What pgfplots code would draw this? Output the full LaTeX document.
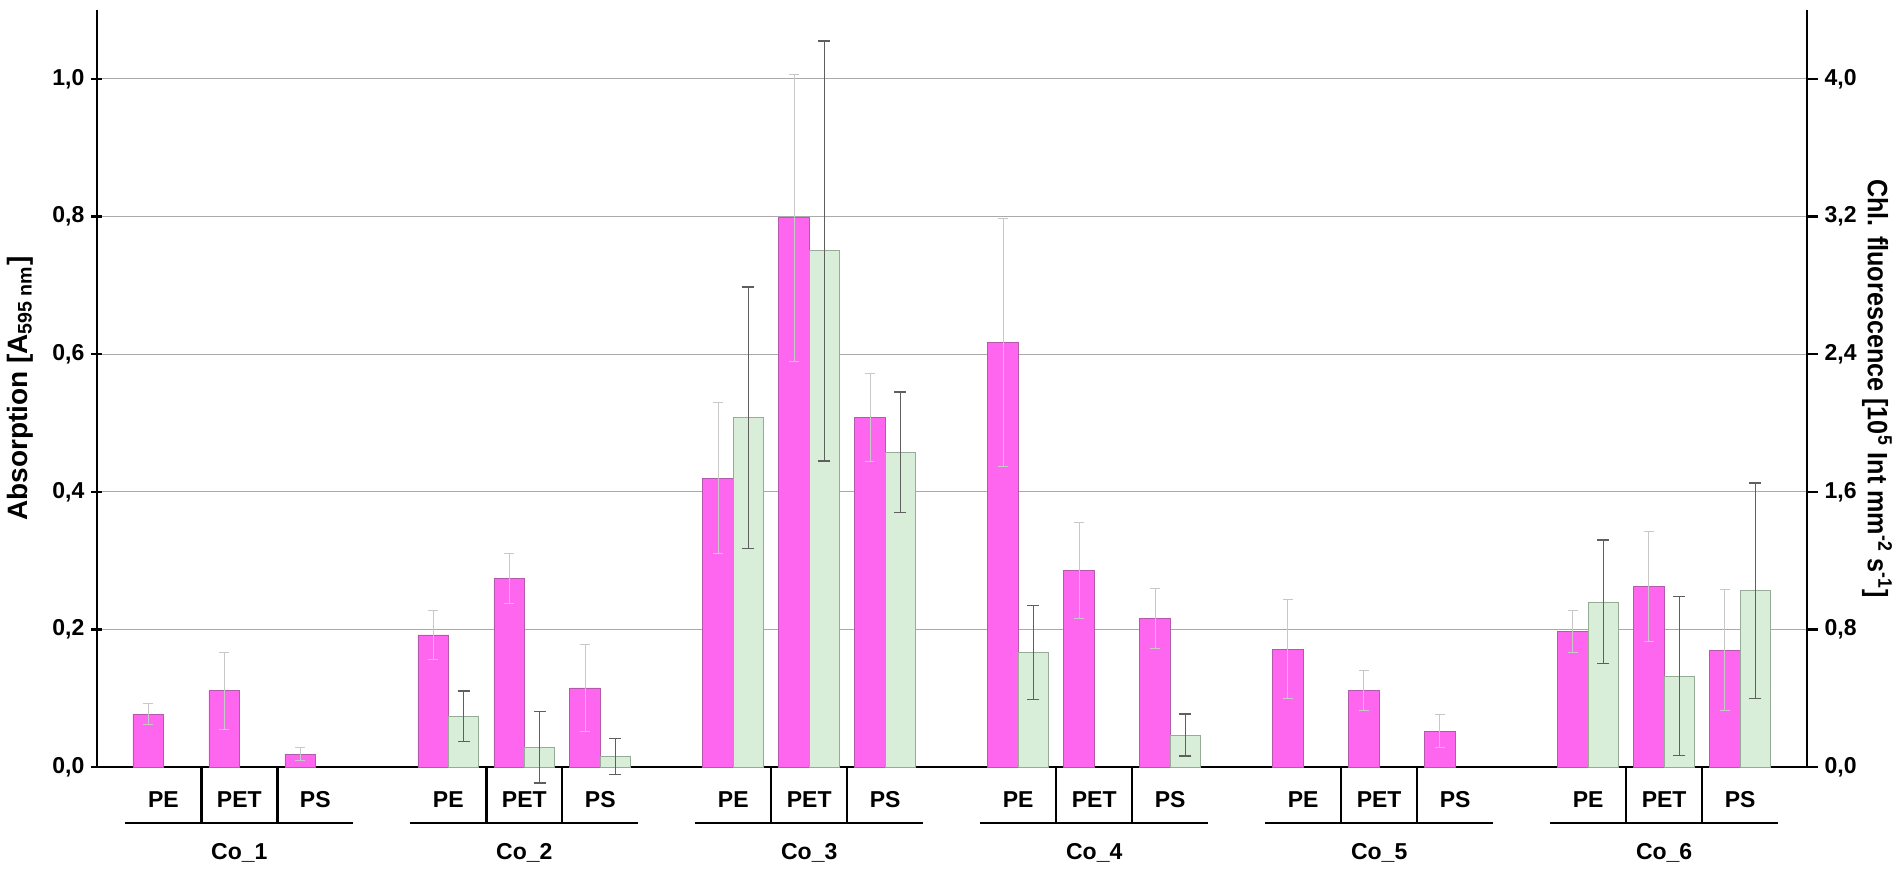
\documentclass[border=0pt]{standalone}
\usepackage{fontspec}
\setmainfont{Liberation Sans}
\usepackage{pgfplots}
\pgfplotsset{compat=1.18}
\usepackage{pgfplotstable}

\definecolor{pinkbar}{RGB}{255,102,240}
\definecolor{pinkedge}{RGB}{180,90,170}
\definecolor{greenbar}{RGB}{217,238,216}
\definecolor{greenedge}{RGB}{150,172,150}
\definecolor{gridc}{RGB}{170,170,170}
\definecolor{errpink}{RGB}{200,200,200}
\definecolor{errgreen}{RGB}{95,95,95}

% Absorption (left axis)
\pgfplotstableread{
x y e
-1.2 0.077 0.015
-0.2 0.111 0.056
0.8 0.019 0.010
2.55 0.192 0.036
3.55 0.274 0.036
4.55 0.115 0.063
6.3 0.420 0.110
7.3 0.798 0.208
8.3 0.508 0.064
10.05 0.617 0.180
11.05 0.286 0.070
12.05 0.216 0.043
13.8 0.171 0.072
14.8 0.111 0.029
15.8 0.052 0.024
17.55 0.197 0.030
18.55 0.262 0.080
19.55 0.170 0.088
}\pinkdata

% Chl. fluorescence (right axis)
\pgfplotstableread{
x y e
2.95 0.296 0.148
3.95 0.116 0.208
4.95 0.062 0.104
6.7 2.03 0.76
7.7 3.00 1.22
8.7 1.83 0.35
10.45 0.666 0.273
12.45 0.186 0.122
17.95 0.96 0.359
18.95 0.529 0.462
19.95 1.025 0.627
}\greendata

\newcommand{\grp}[4]{%
  \draw[line width=1.2pt] ([yshift=-27.8pt]axis cs:#1,0) -- ([yshift=-27.8pt]axis cs:#4,0);
  \draw[line width=1.2pt] (axis cs:#2,0) -- ([yshift=-27.8pt]axis cs:#2,0);
  \draw[line width=1.2pt] (axis cs:#3,0) -- ([yshift=-27.8pt]axis cs:#3,0);
}

\begin{document}
\begin{tikzpicture}
\pgfplotsset{
  common/.style={
    scale only axis, width=855pt, height=378.5pt,
    xmin=-1.877, xmax=20.63, ymin=0,
    tick align=outside, major tick length=5.3pt,
    tick style={black, line width=1.2pt},
    /pgf/number format/assume math mode=true,
    tick label style={font=\fontsize{11.5}{13}\selectfont\bfseries},
    y tick label style={/pgf/number format/.cd, fixed, fixed zerofill, precision=1, use comma},
  },
}
\begin{axis}[common,
  ymax=1.1,
  axis x line=bottom, axis y line=left,
  axis line style={black, line width=1.2pt, -},
  ytick={0,0.2,0.4,0.6,0.8,1.0},
  ymajorgrids, major grid style={gridc, line width=0.6pt},
  xtick={-1,0,1,2.75,3.75,4.75,6.5,7.5,8.5,10.25,11.25,12.25,14,15,16,17.75,18.75,19.75},
  xticklabels={PE,PET,PS,PE,PET,PS,PE,PET,PS,PE,PET,PS,PE,PET,PS,PE,PET,PS},
  xtick style={draw=none},
  xticklabel style={anchor=base, yshift=-17.3pt, font=\fontsize{11.5}{13}\selectfont\bfseries},
  extra x ticks={0,3.75,7.5,11.25,15,18.75},
  extra x tick labels={Co\_1,Co\_2,Co\_3,Co\_4,Co\_5,Co\_6},
  extra x tick style={major tick length=0pt, tick style={draw=none},
    xticklabel style={yshift=-28.7pt}},
  ylabel={Absorption [A\textsubscript{595 nm}]},
  every axis y label/.style={at={(rel axis cs:0,0.5)}, xshift=-38.3pt, rotate=90, anchor=center,
    font=\fontsize{14}{16}\selectfont\bfseries},
  clip=false,
]
\coordinate (sw) at (rel axis cs:0,0);
\coordinate (ne) at (rel axis cs:1,1);
\addplot[ybar, bar width=0.4, bar shift=0, fill=pinkbar, draw=pinkedge, line width=0.4pt,
  error bars/.cd, y dir=both, y explicit,
  error bar style={errpink, line width=0.5pt},
  error mark options={rotate=90, mark size=2.6pt, errpink, line width=0.5pt}]
  table[x=x, y=y, y error=e]{\pinkdata};
\grp{-1.5}{-0.5}{0.5}{1.5}
\grp{2.25}{3.25}{4.25}{5.25}
\grp{6}{7}{8}{9}
\grp{9.75}{10.75}{11.75}{12.75}
\grp{13.5}{14.5}{15.5}{16.5}
\grp{17.25}{18.25}{19.25}{20.25}
\end{axis}
\begin{axis}[common,
  ymax=4.4,
  axis x line=none, axis y line*=right,
  axis line style={black, line width=1.2pt, -},
  ytick={0,0.8,1.6,2.4,3.2,4.0},
  ylabel={\scalebox{0.9}[1]{Chl. fluorescence [10\textsuperscript{5} Int mm\textsuperscript{-2} s\textsuperscript{-1}]}},
  every axis y label/.style={at={(rel axis cs:1,0.5)}, xshift=35pt, rotate=-90, anchor=center,
    font=\fontsize{14}{16}\selectfont\bfseries},
  clip=false,
]
\addplot[ybar, bar width=0.4, bar shift=0, fill=greenbar, draw=greenedge, line width=0.4pt,
  error bars/.cd, y dir=both, y explicit,
  error bar style={errgreen, line width=0.8pt},
  error mark options={rotate=90, mark size=3pt, errgreen, line width=0.8pt}]
  table[x=x, y=y, y error=e]{\greendata};
\end{axis}
\pgfresetboundingbox
\path[use as bounding box] ([shift={(-48.35pt,-51.5pt)}]sw) rectangle ([shift={(47.5pt,5pt)}]ne);
\end{tikzpicture}
\end{document}
